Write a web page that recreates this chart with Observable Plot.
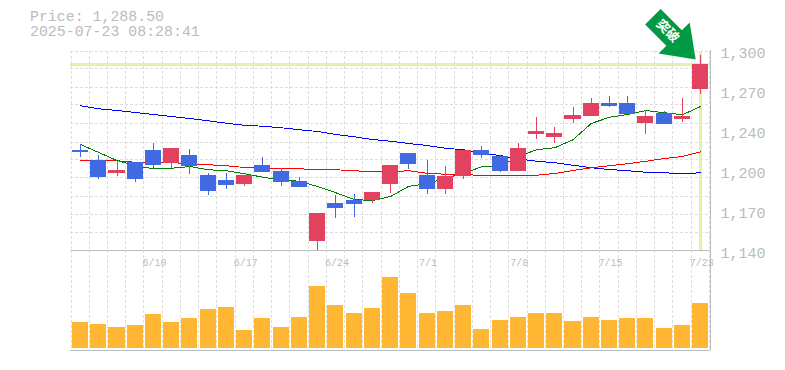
<!DOCTYPE html>
<html>
<head>
<meta charset="utf-8">
<script src="https://cdn.jsdelivr.net/npm/d3@7"></script>
<script src="https://cdn.jsdelivr.net/npm/@observablehq/plot@0.6"></script>
<style>
html,body{margin:0;padding:0;background:#fff;}
#wrap{position:relative;width:785px;height:370px;overflow:hidden;}
#title{position:absolute;left:30px;top:10px;font:14.9px/15px "Liberation Mono",monospace;color:#bbb;white-space:pre;z-index:3;}
#wrap svg{position:absolute;left:0;}
</style>
</head>
<body>
<div id="wrap"><div id="title">Price: 1,288.50
2025-07-23 08:28:41</div></div>
<script>
const dates = ["6/4","6/5","6/6","6/9","6/10","6/11","6/12","6/13","6/16","6/17","6/18","6/19","6/20","6/23","6/24","6/25","6/26","6/27","6/30","7/1","7/2","7/3","7/4","7/7","7/8","7/9","7/10","7/11","7/14","7/15","7/16","7/17","7/18","7/22","7/23"];
const opens = [1220,1212,1201.6,1210.4,1220,1209.6,1216,1200,1196,1192.8,1208,1203.2,1195.2,1147.2,1177.6,1180,1180,1192.8,1217.6,1200,1188.8,1199.2,1220,1215.2,1203.2,1232.8,1230.4,1244.8,1247.2,1257.6,1257.6,1241.6,1249.6,1244.8,1268.8];
const closes = [1218.4,1198.4,1204,1196.8,1208,1221.6,1207.2,1187.2,1192,1200,1202.4,1194.4,1190.4,1169.6,1173.6,1176.8,1186.4,1208,1208.8,1188.8,1199.2,1220,1216,1203.2,1221.6,1235.2,1233.6,1248,1257.6,1255.2,1248.8,1247.2,1240.8,1247.2,1288.5];
const highs = [1224.8,1216,1211.2,1210.4,1225.6,1221.6,1220.8,1201.6,1201.6,1200,1214.4,1205.6,1198.4,1169.6,1184,1184.8,1186.4,1208,1217.6,1212,1207.2,1220,1223.2,1216,1225.6,1246.4,1238.4,1254.4,1261.6,1263.2,1263.2,1252,1251.2,1261.6,1296];
const lows = [1214.4,1196.8,1199.2,1194.4,1204.8,1205.6,1200.8,1184,1188.8,1191.2,1202.4,1191.2,1190.4,1140,1165.6,1166.4,1177.6,1185.6,1204.8,1184.8,1184.8,1196.8,1213.6,1202.4,1203.2,1228.8,1225.6,1241.6,1247.2,1254.4,1248.8,1232.8,1240.8,1242.4,1264.8];
const volumes = [26,24,21,23,34,26,30,39,41,18,30,21,31,62,43,35,40,71,55,35,37,43,19,28,31,35,35,27,31,28,30,30,20,23,45];
const maShort = [1224.8,1218.4,1212,1207.8,1205.4,1205.8,1207.2,1204.6,1203.8,1201.4,1198.6,1196.6,1195.4,1191.2,1186.2,1180.8,1180,1183.2,1191.4,1193.4,1197.8,1201.8,1207,1207.2,1215.2,1220.6,1222.2,1228.6,1241.6,1246.6,1248.8,1252,1250.2,1248.6,1255.2];
const maMid = [1211.8,1211.8,1211.8,1210.6,1210.4,1210.2,1209.6,1208.6,1207.8,1206.4,1205.6,1205.4,1205.4,1204.6,1204.6,1203.8,1203,1203,1203.8,1201.8,1201,1200.6,1200.2,1199.8,1199.8,1200.2,1201.6,1204,1206.2,1207.8,1209.4,1211.4,1213.6,1215.2,1219];
const maLong = [1255.8,1253.4,1252,1250.4,1248.8,1247.2,1245.6,1243.8,1241.8,1240.2,1239.4,1238.2,1236.6,1235.2,1232.8,1231,1228.8,1227.4,1225.6,1224,1221.8,1220.6,1217.8,1216,1213.4,1211.4,1210.2,1208.2,1206.2,1204.8,1203.8,1202.6,1202.2,1201.4,1202.2];
const priceTicks = [1300,1268,1236,1204,1172,1140];
const priceLabels = ["1,300","1,270","1,240","1,200","1,170","1,140"];
const gridPrices = [1299.4,1285.5,1270.4,1256.5,1242,1226.6,1212.8,1198.4,1183.2,1168.8,1154.4];
const dateTicks = ["6/10","6/17","6/24","7/1","7/8","7/15","7/23"];
const lastPrice = 1288.5;
const badge = "突破";

const rows = dates.map((d,i)=>({d,i,open:opens[i],close:closes[i],high:highs[i],low:lows[i],vol:volumes[i],maShort:maShort[i],maMid:maMid[i],maLong:maLong[i]}));
const lastDate = dates[dates.length-1];
const BLUE="#4169e1", RED="#e2415f", GRID="#ddd", AXIS="#bbb", HILITE="#e3f3a3", BAR="#ffb733", GREEN="#009944";
const crisp = {shapeRendering:"crispEdges"};
const xScale = {type:"band",domain:dates,range:[70.9,709.3],paddingInner:0.12,paddingOuter:0.06,round:false,axis:null};
const gridV = {stroke:GRID,strokeDasharray:"3,2",...crisp};
const MONO = "Liberation Mono";

function arrowShape(){
  return {draw(ctx,l){
    const hs=11,hh=22,hl=30.5;
    ctx.moveTo(-hs,0);ctx.lineTo(hs,0);ctx.lineTo(hs,-l+hl);ctx.lineTo(hh,-l+hl);
    ctx.lineTo(0,-l);ctx.lineTo(-hh,-l+hl);ctx.lineTo(-hs,-l+hl);ctx.closePath();
  }};
}

const price = Plot.plot({
  width:785,height:262,marginLeft:70,marginRight:75,marginTop:50,marginBottom:12,
  style:{background:"transparent",overflow:"visible"},
  x:xScale,
  y:{domain:[1140,1300],range:[250,50],axis:null},
  marks:[
    Plot.ruleY(gridPrices,{stroke:GRID,strokeDasharray:"3,2",...crisp}),
    Plot.ruleX(dates,{x:d=>d,y1:1299.4,y2:1140,dx:-9.5,...gridV}),
    Plot.ruleX([lastDate],{y1:1299.4,y2:1140,dx:8.7,...gridV}),
    Plot.ruleY([lastPrice],{stroke:HILITE,strokeWidth:3,...crisp}),
    Plot.ruleX([lastDate],{y1:1299.4,y2:1140,stroke:HILITE,strokeWidth:3,...crisp}),
    Plot.ruleX([lastDate],{y1:1300,y2:1140,dx:10,stroke:AXIS,...crisp}),
    Plot.ruleY([1140],{stroke:AXIS,...crisp}),
    Plot.lineY(rows,{x:"d",y:"maLong",stroke:"#0000ff",strokeWidth:1,...crisp}),
    Plot.lineY(rows,{x:"d",y:"maMid",stroke:"#ff0000",strokeWidth:1,...crisp}),
    Plot.lineY(rows,{x:"d",y:"maShort",stroke:"#007f00",strokeWidth:1,...crisp}),
    Plot.ruleX(rows,{x:"d",y1:"low",y2:"high",stroke:d=>d.close>=d.open?RED:BLUE,strokeWidth:1,...crisp}),
    Plot.barY(rows,{x:"d",y1:"open",y2:"close",fill:d=>d.close>=d.open?RED:BLUE,...crisp}),
    Plot.axisY({anchor:"right",ticks:priceTicks,tickFormat:(d)=>priceLabels[priceTicks.indexOf(d)],tickSize:0,tickPadding:10,dy:3,
      fontFamily:MONO,fontSize:15,label:null,fill:AXIS}),
    Plot.vector([lastDate],{x:d=>d,y:[1292.8],length:60.5,rotate:135,anchor:"end",shape:arrowShape(),fill:GREEN,stroke:"none",dx:-5}),
    Plot.text([badge],{x:[lastDate],y:[1315.6],text:d=>d,rotate:45,dx:-33,fill:"white",fontSize:13,fontWeight:"bold",fontFamily:"Noto Sans CJK JP"})
  ]
});
price.style.top="0";
document.getElementById("wrap").appendChild(price);

const volume = Plot.plot({
  width:785,height:110,marginLeft:70,marginRight:75,marginTop:0,marginBottom:10,
  style:{background:"transparent"},
  x:xScale,
  y:{domain:[0,98],range:[98,0],axis:null},
  marks:[
    Plot.ruleX(dates,{x:d=>d,y1:98,y2:-2,dx:-9.5,...gridV}),
    Plot.ruleX([lastDate],{y1:98,y2:-2,dx:8.7,...gridV}),
    Plot.ruleX([lastDate],{y1:98,y2:-2,dx:10,stroke:AXIS,...crisp}),
    Plot.ruleY([-2],{stroke:AXIS,...crisp}),
    Plot.barY(rows,{x:"d",y:"vol",fill:BAR,...crisp}),
    Plot.axisX({anchor:"top",ticks:dateTicks,tickSize:0,tickPadding:0,dy:15,dx:1,fontFamily:MONO,fontSize:10,fill:AXIS,label:null})
  ]
});
volume.style.top="250px";
document.getElementById("wrap").appendChild(volume);
</script>
</body>
</html>
